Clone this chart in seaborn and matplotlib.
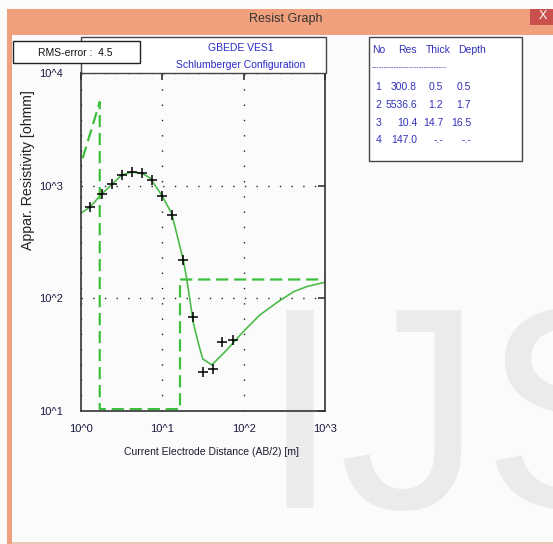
import matplotlib
matplotlib.use('Agg')
import matplotlib.pyplot as plt
from matplotlib.patches import Rectangle
from matplotlib.ticker import LogLocator, NullFormatter, FixedLocator
import seaborn as sns

# layered model (from the table)
layer_no = [1, 2, 3, 4]
res = [300.8, 5536.6, 10.4, 147.0]
thick = [0.5, 1.2, 14.7]
depth = [0.5, 1.7, 16.5]
rms_error = 4.5

# observed apparent resistivity (AB/2 in m, rho in ohmm)
obs_ab = [1.29, 1.80, 2.43, 3.17, 4.20, 5.58, 7.53, 10.0, 13.0, 18.1, 24.1, 31.9, 42.4, 54.7, 74.7]
obs_rho = [646, 844, 1035, 1245, 1330, 1290, 1125, 811, 550, 219, 68.9, 22.4, 23.5, 40.7, 42.8]

# calculated curve
curve_ab = [1.0, 1.29, 1.8, 2.43, 3.17, 4.2, 5.58, 7.06, 9.8, 13.0, 15.7, 18.1, 19.9, 24.1, 27.7,
            31.4, 40.5, 62, 99, 158, 266, 412, 594, 1000]
curve_rho = [569, 646, 844, 1035, 1245, 1320, 1290, 1170, 826, 569, 330, 219, 151, 60, 40,
             29, 25.6, 34.8, 50.7, 71.2, 93.5, 114.6, 127, 139]

x_ticks = [1, 10, 100, 1000]
x_tick_labels = ['10^0', '10^1', '10^2', '10^3']
y_ticks = [10, 100, 1000, 10000]
y_tick_labels = ['10^1', '10^2', '10^3', '10^4']

sns.set_style('white')
plt.rcParams['font.family'] = ['Liberation Sans Narrow', 'Liberation Sans', 'DejaVu Sans']

W, H = 553, 544
def fx(x):
    return x / W
def fy(y):
    return 1 - y / H

fs = 7.5  # small text

fig = plt.figure(figsize=(W / 100, H / 100), dpi=100, facecolor='#fbfbfb')

# watermark behind everything
fig.text(fx(259), fy(508), 'IJS', fontsize=207, color='#ebebeb', family=['Liberation Sans', 'DejaVu Sans'],
         ha='left', va='baseline', zorder=-1)

def box(x0, y0, x1, y1, fc, ec='none', lw=0):
    fig.add_artist(Rectangle((fx(x0), fy(y1)), (x1 - x0) / W, (y1 - y0) / H, transform=fig.transFigure,
                             facecolor=fc, edgecolor=ec, linewidth=lw))

# window frame
box(7, 9, 553, 35, '#f0a07c')
box(7, 35, 12, 544, '#f0a07c')
box(12, 542, 553, 544, '#ecc8b6')
box(530, 9, 553, 25, '#c9504c')
fig.text(fx(543), fy(16), 'X', color='white', fontsize=9, ha='center', va='center')
fig.text(fx(286), fy(19), 'Resist Graph', color='#333333', fontsize=9, ha='center', va='center')

ax = fig.add_axes([fx(81), fy(411), 244 / W, 338 / H])
ax.set_facecolor('none')
ax.set_xscale('log')
ax.set_yscale('log')

# model as drawn by the program
model_x = [depth[0], depth[1], depth[1], depth[2], depth[2], 1000]
model_y = [res[0], res[1], res[2], res[2], res[3], res[3]]
sns.lineplot(x=model_x, y=model_y, sort=False, estimator=None, color='#3cbf3c', lw=1.6, ax=ax)
ax.lines[-1].set_linestyle((0, (5.5, 2.6)))
sns.lineplot(x=curve_ab, y=curve_rho, sort=False, estimator=None, color='#4cbb4c', lw=1.2, ax=ax)
sns.scatterplot(x=obs_ab, y=obs_rho, marker='+', s=55, color='black', linewidth=1.1, ax=ax, zorder=5)

ax.set_xlim(1, 1000)
ax.set_ylim(10, 10000)
ax.xaxis.set_major_locator(FixedLocator(x_ticks))
ax.yaxis.set_major_locator(FixedLocator(y_ticks))
ax.set_xticklabels(x_tick_labels)
ax.set_yticklabels(y_tick_labels)
ax.xaxis.set_minor_locator(LogLocator(subs=range(2, 10)))
ax.yaxis.set_minor_locator(LogLocator(subs=range(2, 10)))
ax.xaxis.set_minor_formatter(NullFormatter())
ax.yaxis.set_minor_formatter(NullFormatter())
ax.tick_params(which='major', direction='in', length=5, width=1.2, top=True, right=True,
               labelsize=8, labelcolor='#1a1a40', color='#333333')
ax.tick_params(which='minor', direction='in', length=3, width=0.8, top=False, right=False, color='#333333')
ax.tick_params(axis='x', which='major', pad=9.4)
ax.tick_params(axis='y', which='major', pad=13)
ax.xaxis.grid(True, which='major', color='#222222', linestyle=(0, (1, 10)), lw=1)
ax.yaxis.grid(True, which='major', color='#222222', linestyle=(0, (1, 7.4)), lw=1)
for s in ax.spines.values():
    s.set_color('#333333')
    s.set_linewidth(1.2)
ax.set_xlabel('')
ax.set_ylabel('')

fig.text(fx(211), fy(452), 'Current Electrode Distance (AB/2) [m]', fontsize=fs, color='#1a1a30',
         ha='center', va='center')
fig.text(fx(28), fy(170), 'Appar. Resistivity [ohmm]', fontsize=10.2, color='#222222', rotation=90,
         family=['Liberation Sans', 'DejaVu Sans'], ha='center', va='center')

# title box
box(81, 37, 326, 73, 'white', '#444444', 1)
fig.text(fx(241), fy(48), 'GBEDE VES1', fontsize=fs, color='#2a2acc', ha='center', va='center')
fig.text(fx(241), fy(65), 'Schlumberger Configuration', fontsize=fs, color='#2a2acc', ha='center', va='center')

# RMS box
box(13, 41, 140, 63, 'white', '#222222', 1)
fig.text(fx(38), fy(53), 'RMS-error :  %.1f' % rms_error, fontsize=fs, color='#111111', ha='left', va='center')

# layer table
box(369, 37, 522, 161, 'white', '#444444', 1)
tc = '#3030bb'
for label, xl in zip(['No', 'Res', 'Thick', 'Depth'], [372, 398, 426, 458]):
    fig.text(fx(xl), fy(50), label, fontsize=fs, color=tc, ha='left', va='center')
fig.text(fx(372), fy(68), '-' * 30, fontsize=5.5, color=tc, ha='left', va='center')
thick_s = ['%.1f' % t for t in thick] + ['-.-']
depth_s = ['%.1f' % d for d in depth] + ['-.-']
for i, n in enumerate(layer_no):
    y = 87 + i * 17.8
    cells = [str(n), '%.1f' % res[i], thick_s[i], depth_s[i]]
    for cell, xr in zip(cells, [381, 417, 443, 471]):
        fig.text(fx(xr), fy(y), cell, fontsize=fs, color=tc, ha='right', va='center')

fig.savefig('out.png', dpi=100, facecolor=fig.get_facecolor())
